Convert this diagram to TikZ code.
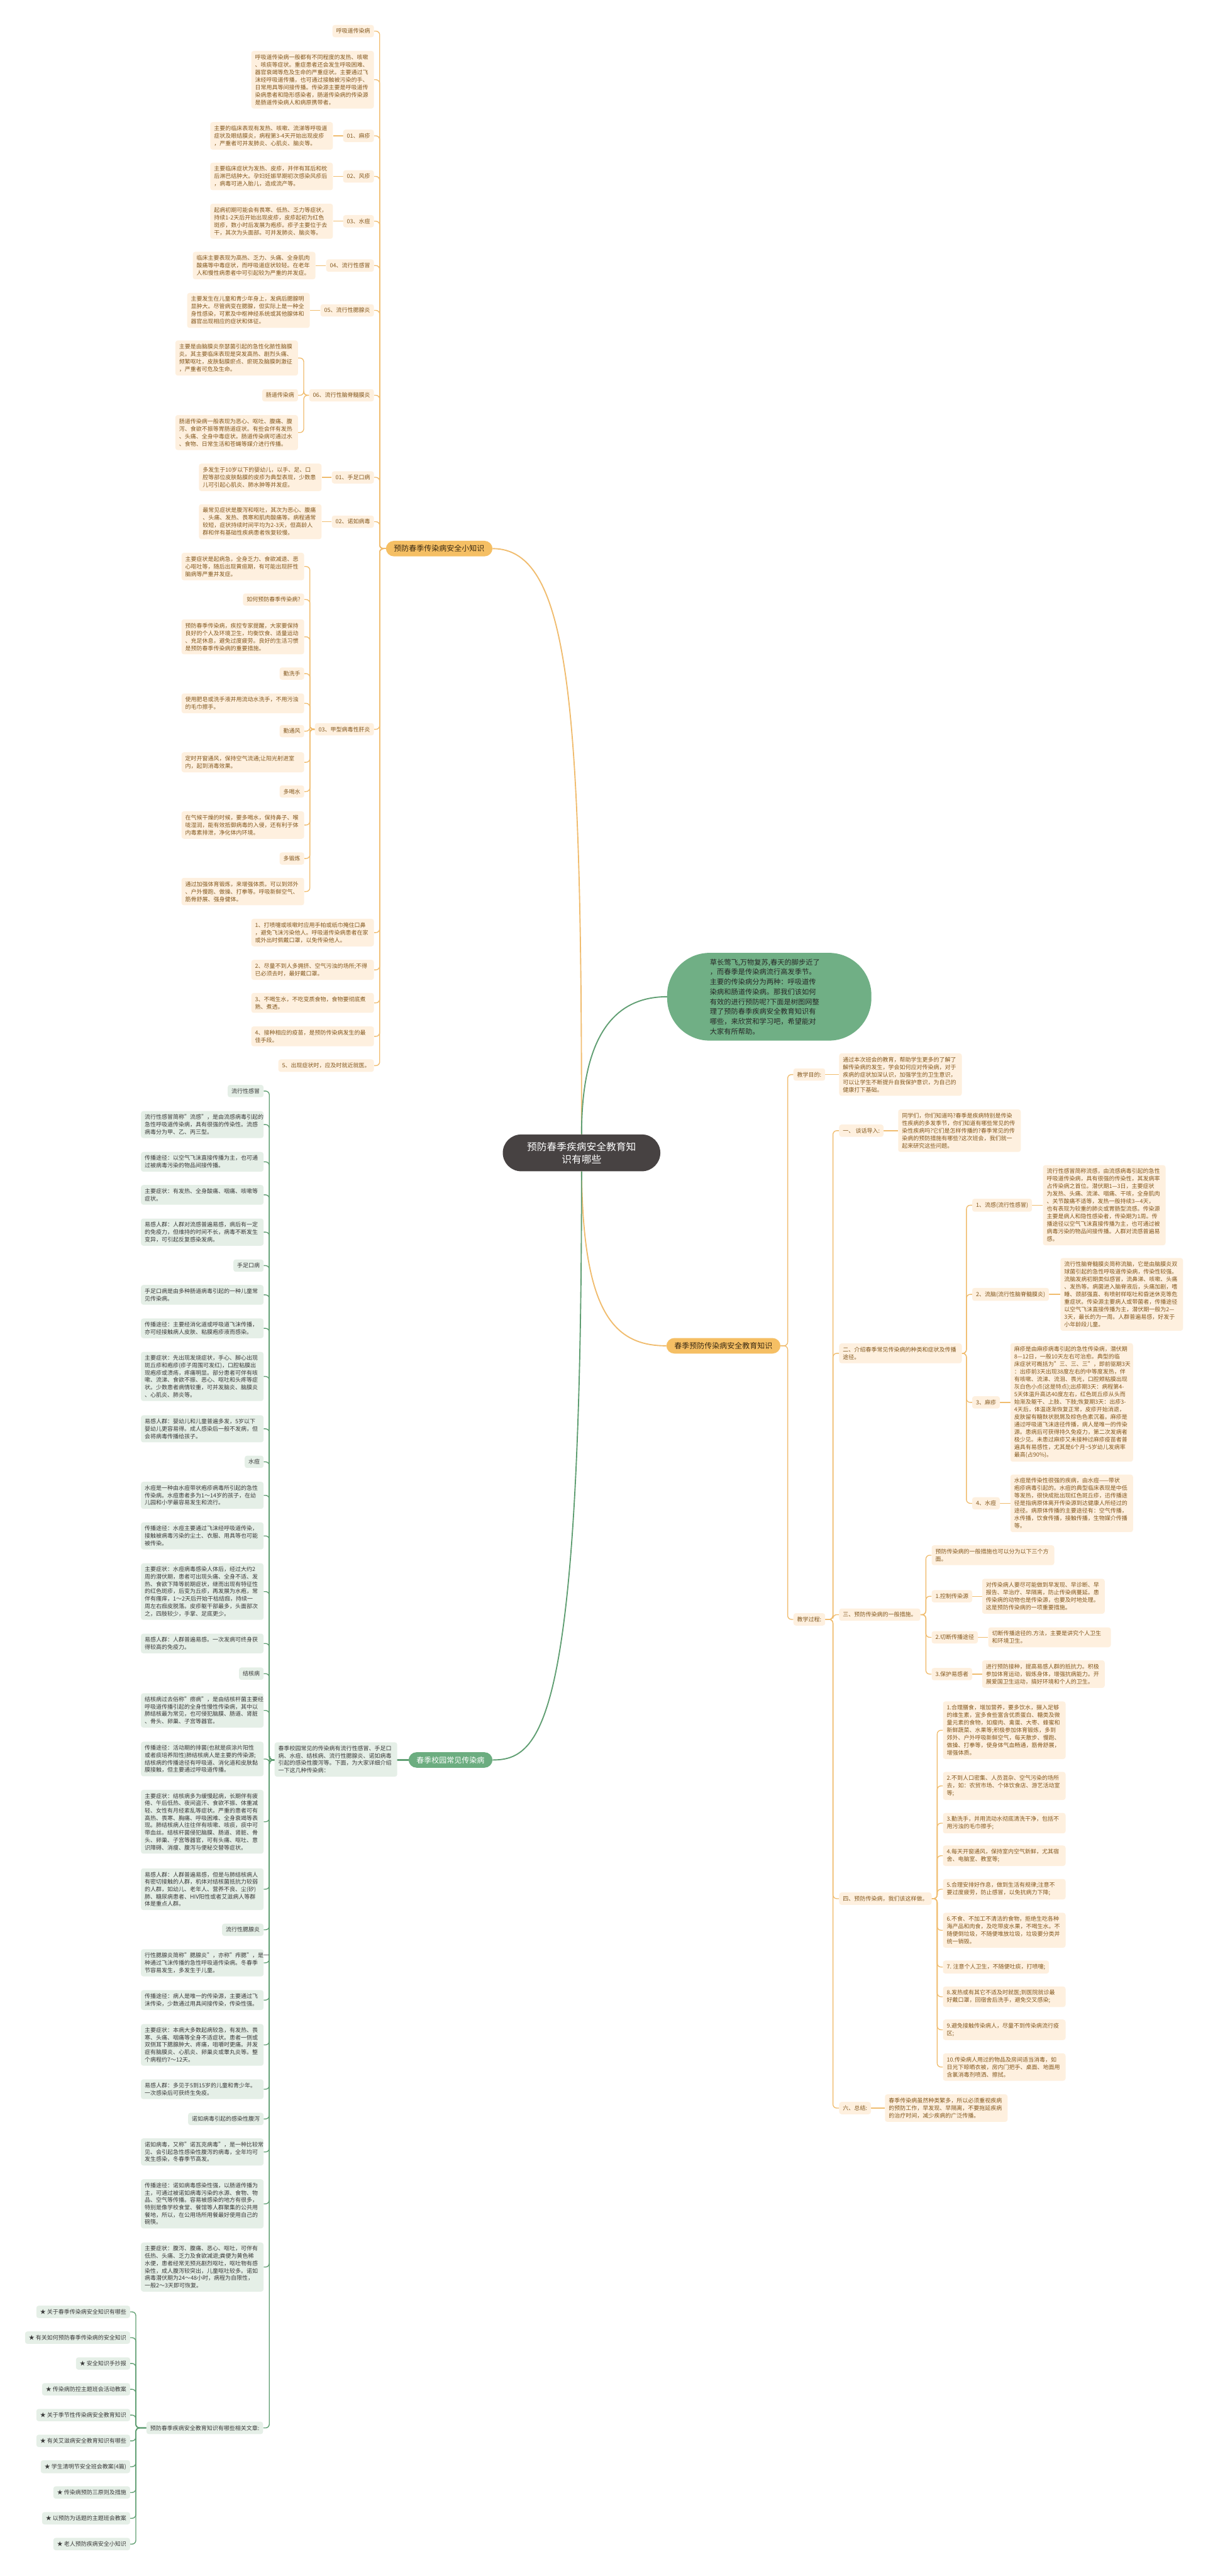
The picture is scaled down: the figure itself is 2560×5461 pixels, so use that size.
\documentclass[tikz,border=0pt]{standalone}
\usepackage{fontspec}
\setmainfont{Noto Sans CJK SC}
\usetikzlibrary{backgrounds}

\definecolor{orline}{HTML}{F0BC6E}
\definecolor{orfill}{HTML}{FEF0DF}
\definecolor{ortext}{HTML}{83581E}
\definecolor{orhub}{HTML}{F5BF64}
\definecolor{orhubtext}{HTML}{3B2A12}
\definecolor{grline}{HTML}{5F9E72}
\definecolor{grfill}{HTML}{E5EFE7}
\definecolor{grtext}{HTML}{3A3A3A}
\definecolor{grhub}{HTML}{6CAD80}
\definecolor{notefill}{HTML}{70AF85}
\definecolor{ink}{HTML}{474242}

\tikzset{
	olink/.style={draw=orline, line width=1.8pt, rounded corners=8pt},
	glink/.style={draw=grline, line width=1.8pt, rounded corners=8pt},
	cell/.style={rounded corners=5pt, inner xsep=8pt, inner ysep=7.5pt, align=left},
	olbl/.style={cell, fill=orfill, text=ortext, font=\fontsize{12}{16}\selectfont},
	obox/.style={olbl, text width=244pt},
	glbl/.style={cell, fill=grfill, text=grtext, font=\fontsize{12}{15.6}\selectfont},
	gbox/.style={glbl, text width=244pt},
	hub/.style={rounded corners=17pt, inner xsep=17pt, inner ysep=9pt, font=\fontsize{16}{20}\selectfont},
	ohub/.style={hub, fill=orhub, text=orhubtext},
	ghub/.style={hub, fill=grhub, text=white},
	core/.style={fill=ink, text=white, font=\fontsize{21}{27}\selectfont, align=center,
		minimum width=334pt, minimum height=78pt, rounded corners=39pt},
	note/.style={fill=notefill, text=black!85, font=\fontsize{15}{21}\selectfont, align=left,
		text width=252pt, minimum width=433pt, minimum height=186pt, rounded corners=90pt}
}

\begin{document}
\begin{tikzpicture}[x=1pt,y=-1pt]
\useasboundingbox (0,0) rectangle (2560,5461);

\node[core] (root) at (1233,2444) {预防春季疾病安全教育知\\识有哪些};
\node[note] (intro) at (1631,2113) {草长莺飞,万物复苏,春天的脚步近了\\，而春季是传染病流行高发季节。\\主要的传染病分为两种：呼吸道传\\染病和肠道传染病。那我们该如何\\有效的进行预防呢?下面是树图网整\\理了预防春季疾病安全教育知识有\\哪些，来欣赏和学习吧，希望能对\\大家有所帮助。};
\node[ohub, anchor=west] (tips) at (818,1163) {预防春季传染病安全小知识};
\node[ohub, anchor=east] (edu) at (1655,2853) {春季预防传染病安全教育知识};
\node[ghub, anchor=west] (camp) at (866,3731) {春季校园常见传染病};

\coordinate (kT) at (805,0);
\coordinate (k6) at (644,0);
\coordinate (k9) at (657,0);
\coordinate (kE) at (1670,0);
\coordinate (kP) at (1766,0);
\coordinate (k2) at (2049,0);
\coordinate (k3) at (1963,0);
\coordinate (k4) at (1987,0);
\coordinate (kC) at (571,0);
\coordinate (kR) at (288,0);

% 小知识
\node[olbl, anchor=east] (t0) at (793,66) {呼吸道传染病};
\node[obox, anchor=east] (t0-d) at (793,169) {呼吸道传染病一般都有不同程度的发热、咳嗽\\、咳痰等症状。重症患者还会发生呼吸困难、\\器官衰竭等危及生命的严重症状。主要通过飞\\沫经呼吸道传播，也可通过接触被污染的手、\\日常用具等间接传播。传染源主要是呼吸道传\\染病患者和隐形感染者，肠道传染病的传染源\\是肠道传染病人和病原携带者。};
\node[olbl, anchor=east] (t1) at (793,288) {01、麻疹};
\node[obox, anchor=east] (t1-d) at (706,288) {主要的临床表现有发热、咳嗽、流涕等呼吸道\\症状及眼结膜炎，病程第3-4天开始出现皮疹\\，严重者可并发肺炎、心肌炎、脑炎等。};
\node[olbl, anchor=east] (t2) at (793,374) {02、风疹};
\node[obox, anchor=east] (t2-d) at (706,374) {主要临床症状为发热、皮疹，并伴有耳后和枕\\后淋巴结肿大。孕妇妊娠早期初次感染风疹后\\，病毒可进入胎儿，造成流产等。};
\node[olbl, anchor=east] (t3) at (793,469) {03、水痘};
\node[obox, anchor=east] (t3-d) at (706,469) {起病初期可能会有畏寒、低热、乏力等症状，\\持续1-2天后开始出现皮疹，皮疹起初为红色\\斑疹，数小时后发展为疱疹。疹子主要位于去\\干，其次为头面部。可并发肺炎、脑炎等。};
\node[olbl, anchor=east] (t4) at (793,563) {04、流行性感冒};
\node[obox, anchor=east] (t4-d) at (669,563) {临床主要表现为高热、乏力、头痛、全身肌肉\\酸痛等中毒症状，而呼吸道症状较轻。在老年\\人和慢性病患者中可引起较为严重的并发症。};
\node[olbl, anchor=east] (t5) at (793,658) {05、流行性腮腺炎};
\node[obox, anchor=east] (t5-d) at (657,658) {主要发生在儿童和青少年身上，发病后腮腺明\\显肿大。尽管病变在腮腺，但实际上是一种全\\身性感染，可累及中枢神经系统或其他腺体和\\器官出现相应的症状和体征。};
\node[obox, anchor=east] (t6-a) at (632,759) {主要是由脑膜炎奈瑟菌引起的急性化脓性脑膜\\炎。其主要临床表现是突发高热、剧烈头痛、\\频繁呕吐，皮肤黏膜瘀点、瘀斑及脑膜刺激征\\，严重者可危及生命。};
\node[olbl, anchor=east] (t6) at (793,838) {06、流行性脑脊髓膜炎};
\node[olbl, anchor=east] (t6-b) at (632,838) {肠道传染病};
\node[obox, anchor=east] (t6-c) at (632,917) {肠道传染病一般表现为恶心、呕吐、腹痛、腹\\泻、食欲不振等胃肠道症状。有些会伴有发热\\、头痛、全身中毒症状。肠道传染病可通过水\\、食物、日常生活和苍蝇等媒介进行传播。};
\node[olbl, anchor=east] (t7) at (793,1012) {01、手足口病};
\node[obox, anchor=east] (t7-d) at (682,1012) {多发生于10岁以下的婴幼儿，以手、足、口\\腔等部位皮肤黏膜的皮疹为典型表现，少数患\\儿可引起心肌炎、肺水肿等并发症。};
\node[olbl, anchor=east] (t8) at (793,1106) {02、诺如病毒};
\node[obox, anchor=east] (t8-d) at (682,1106) {最常见症状是腹泻和呕吐，其次为恶心、腹痛\\、头痛、发热、畏寒和肌肉酸痛等。病程通常\\较短，症状持续时间平均为2-3天，但高龄人\\群和伴有基础性疾病患者恢复较慢。};
\node[olbl, anchor=east] (t9) at (793,1546) {03、甲型病毒性肝炎};
\node[obox, anchor=east] (t9-a) at (645,1201) {主要症状是起病急，全身乏力、食欲减退、恶\\心呕吐等，随后出现黄疸期，有可能出现肝性\\脑病等严重并发症。};
\node[olbl, anchor=east] (t9-b) at (645,1271) {如何预防春季传染病?};
\node[obox, anchor=east] (t9-c) at (645,1350) {预防春季传染病，疾控专家提醒，大家要保持\\良好的个人及环境卫生，均衡饮食、适量运动\\、充足休息，避免过度疲劳。良好的生活习惯\\是预防春季传染病的重要措施。};
\node[olbl, anchor=east] (t9-d) at (645,1428) {勤洗手};
\node[obox, anchor=east] (t9-e) at (645,1491) {使用肥皂或洗手液并用流动水洗手，不用污浊\\的毛巾擦手。};
\node[olbl, anchor=east] (t9-f) at (645,1550) {勤通风};
\node[obox, anchor=east] (t9-g) at (645,1616) {定时开窗通风，保持空气流通;让阳光射进室\\内，起到消毒效果。};
\node[olbl, anchor=east] (t9-h) at (645,1678) {多喝水};
\node[obox, anchor=east] (t9-i) at (645,1749) {在气候干燥的时候，要多喝水，保持鼻子、喉\\咙湿润，能有效抵御病毒的入侵，还有利于体\\内毒素排泄，净化体内环境。};
\node[olbl, anchor=east] (t9-j) at (645,1820) {多锻炼};
\node[obox, anchor=east] (t9-k) at (645,1890) {通过加强体育锻炼，来增强体质。可以到郊外\\、户外慢跑、做操、打拳等。呼吸新鲜空气、\\筋骨舒展、强身健体。};
\node[obox, anchor=east] (p1) at (793,1977) {1、打喷嚏或咳嗽时应用手帕或纸巾掩住口鼻\\，避免飞沫污染他人。呼吸道传染病患者在家\\或外出时佩戴口罩，以免传染他人。};
\node[obox, anchor=east] (p2) at (793,2056) {2、尽量不到人多拥挤、空气污浊的场所;不得\\已必须去时，最好戴口罩。};
\node[obox, anchor=east] (p3) at (793,2126) {3、不喝生水，不吃变质食物，食物要彻底煮\\熟、煮透。};
\node[obox, anchor=east] (p4) at (793,2197) {4、接种相应的疫苗，是预防传染病发生的最\\佳手段。};
\node[olbl, anchor=east] (p5) at (793,2259) {5、出现症状时，应及时就近就医。};

% 教育知识
\node[olbl, anchor=west] (aim) at (1682,2278) {教学目的:};
\node[obox, anchor=west] (aim-d) at (1779,2278) {通过本次班会的教育，帮助学生更多的了解了\\解传染病的发生，学会如何应对传染病，对于\\疾病的症状加深认识，加强学生的卫生意识，\\可以让学生不断提升自我保护意识，为自己的\\健康打下基础。};
\node[olbl, anchor=west] (proc) at (1682,3433) {教学过程:};
\node[olbl, anchor=west] (s1) at (1779,2397) {一、 谈话导入:};
\node[obox, anchor=west] (s1-d) at (1904,2397) {同学们，你们知道吗?春季是疾病特别是传染\\性疾病的多发季节，你们知道有哪些常见的传\\染性疾病吗?它们是怎样传播的?春季常见的传\\染病的预防措施有哪些?这次班会，我们就一\\起来研究这些问题。};
\node[obox, anchor=west] (s2) at (1779,2869) {二、介绍春季常见传染病的种类和症状及传播\\途径。};
\node[olbl, anchor=west] (s2a) at (2061,2555) {1、流感(流行性感冒)};
\node[obox, anchor=west] (s2a-d) at (2211,2555) {流行性感冒简称流感，由流感病毒引起的急性\\呼吸道传染病，具有很强的传染性，其发病率\\占传染病之首位。潜伏期1—3日，主要症状\\为发热、头痛、流涕、咽痛、干咳，全身肌肉\\、关节酸痛不适等，发热一般持续3—4天，\\也有表现为较重的肺炎或胃肠型流感。传染源\\主要是病人和隐性感染者，传染期为1周。传\\播途径以空气飞沫直接传播为主，也可通过被\\病毒污染的物品间接传播。人群对流感普遍易\\感。};
\node[olbl, anchor=west] (s2b) at (2061,2744) {2、流脑(流行性脑脊髓膜炎)};
\node[obox, anchor=west] (s2b-d) at (2248,2744) {流行性脑脊髓膜炎简称流脑，它是由脑膜炎双\\球菌引起的急性呼吸道传染病，传染性较强。\\流脑发病初期类似感冒，流鼻涕、咳嗽、头痛\\、发热等。病菌进入脑脊液后，头痛加剧，嗜\\睡、颈部强直、有喷射样呕吐和昏迷休克等危\\重症状。传染源主要病人或带菌者，传播途径\\以空气飞沫直接传播为主，潜伏期一般为2—\\3天，最长的为一周。人群普遍易感，好发于\\小年龄段儿童。};
\node[olbl, anchor=west] (s2c) at (2061,2973) {3、麻疹};
\node[obox, anchor=west] (s2c-d) at (2142,2973) {麻疹是由麻疹病毒引起的急性传染病，潜伏期\\8—12日，一般10天左右可治愈。典型的临\\床症状可概括为"三、三、三"，即前驱期3天\\：出疹前3天出现38度左右的中等度发热，伴\\有咳嗽、流涕、流泪、畏光，口腔颊粘膜出现\\灰白色小点(这是特点);出疹期3天：病程第4-\\5天体温升高达40度左右，红色斑丘疹从头而\\始渐及躯干、上肢、下肢;恢复期3天：出疹3-\\4天后，体温逐渐恢复正常，皮疹开始消退，\\皮肤留有糖麸状脱屑及棕色色素沉着。麻疹是\\通过呼吸道飞沫途径传播，病人是唯一的传染\\源。患病后可获得持久免疫力，第二次发病者\\极少见。未患过麻疹又未接种过麻疹疫苗者普\\遍具有易感性，尤其是6个月\textasciitilde5岁幼儿发病率\\最高(占90\%)。};
\node[olbl, anchor=west] (s2d) at (2061,3187) {4、水痘};
\node[obox, anchor=west] (s2d-d) at (2142,3187) {水痘是传染性很强的疾病，由水痘——带状\\疱疹病毒引起的。水痘的典型临床表现是中低\\等发热，很快成批出现红色斑丘疹，迅传播途\\径是指病原体离开传染源到达健康人所经过的\\途径。病原体传播的主要途径有：空气传播，\\水传播，饮食传播，接触传播，生物媒介传播\\等。};
\node[olbl, anchor=west] (s3) at (1779,3423) {三、预防传染病的一般措施。};
\node[obox, anchor=west] (s3a) at (1975,3297) {预防传染病的一般措施也可以分为以下三个方\\面。};
\node[olbl, anchor=west] (s3b) at (1975,3384) {1.控制传染源};
\node[obox, anchor=west] (s3b-d) at (2082,3384) {对传染病人要尽可能做到早发现、早诊断、早\\报告、早治疗、早隔离，防止传染病蔓延。患\\传染病的动物也是传染源，也要及时地处理。\\这是预防传染病的一项重要措施。};
\node[olbl, anchor=west] (s3c) at (1975,3471) {2.切断传播途径};
\node[obox, anchor=west] (s3c-d) at (2095,3471) {切断传播途径的.方法，主要是讲究个人卫生\\和环境卫生。};
\node[olbl, anchor=west] (s3d) at (1975,3549) {3.保护易感者};
\node[obox, anchor=west] (s3d-d) at (2082,3549) {进行预防接种，提高易感人群的抵抗力。积极\\参加体育运动，锻炼身体，增强抗病能力。开\\展爱国卫生运动，搞好环境和个人的卫生。};
\node[olbl, anchor=west] (s4) at (1779,4025) {四、预防传染病，我们该这样做。};
\node[obox, anchor=west] (s4a) at (1999,3668) {1.合理膳食，增加营养，要多饮水，摄入足够\\的维生素，宜多食些富含优质蛋白、糖类及微\\量元素的食物，如瘦肉、禽蛋、大枣、蜂蜜和\\新鲜蔬菜、水果等;积极参加体育锻炼，多到\\郊外、户外呼吸新鲜空气，每天散步、慢跑、\\做操、打拳等，使身体气血畅通，筋骨舒展，\\增强体质。};
\node[obox, anchor=west] (s4b) at (1999,3786) {2.不到人口密集、人员混杂、空气污染的场所\\去，如：农贸市场、个体饮食店、游艺活动室\\等;};
\node[obox, anchor=west] (s4c) at (1999,3865) {3.勤洗手，并用流动水彻底清洗干净，包括不\\用污浊的毛巾擦手;};
\node[obox, anchor=west] (s4d) at (1999,3934) {4.每天开窗通风，保持室内空气新鲜，尤其宿\\舍、电脑室、教室等;};
\node[obox, anchor=west] (s4e) at (1999,4005) {5.合理安排好作息，做到生活有规律;注意不\\要过度疲劳，防止感冒，以免抗病力下降;};
\node[obox, anchor=west] (s4f) at (1999,4092) {6.不食、不加工不清洁的食物，拒绝生吃各种\\海产品和肉食，及吃带皮水果，不喝生水。不\\随便倒垃圾，不随便堆放垃圾，垃圾要分类并\\统一销毁。};
\node[olbl, anchor=west] (s4g) at (1999,4170) {7. 注意个人卫生，不随便吐痰，打喷嚏;};
\node[obox, anchor=west] (s4h) at (1999,4233) {8.发热或有其它不适及时就医;到医院就诊最\\好戴口罩，回宿舍后洗手，避免交叉感染;};
\node[obox, anchor=west] (s4i) at (1999,4303) {9.避免接触传染病人，尽量不到传染病流行疫\\区;};
\node[obox, anchor=west] (s4j) at (1999,4382) {10.传染病人用过的物品及房间适当消毒，如\\日光下晾晒衣被，房内门把手、桌面、地面用\\含氯消毒剂喷洒、擦拭。};
\node[olbl, anchor=west] (s6) at (1779,4469) {六、总结:};
\node[obox, anchor=west] (s6-d) at (1876,4469) {春季传染病虽然种类繁多，所以必须重视疾病\\的预防工作，早发现、早隔离，不要拖延疾病\\的治疗时间，减少疾病的广泛传播。};

% 校园常见传染病
\node[gbox, anchor=west] (cd) at (582,3730) {春季校园常见的传染病有流行性感冒、手足口\\病、水痘、结核病、流行性腮腺炎、诺如病毒\\引起的感染性腹泻等。下面，为大家详细介绍\\一下这几种传染病：};
\node[glbl, anchor=east] (g1) at (559,2313) {流行性感冒};
\node[gbox, anchor=east] (g1a) at (559,2384) {流行性感冒简称"流感"，是由流感病毒引起的\\急性呼吸道传染病，具有很强的传染性。流感\\病毒分为甲、乙、丙三型。};
\node[gbox, anchor=east] (g1b) at (559,2463) {传播途径：以空气飞沫直接传播为主，也可通\\过被病毒污染的物品间接传播。};
\node[gbox, anchor=east] (g1c) at (559,2533) {主要症状：有发热、全身酸痛、咽痛、咳嗽等\\症状。};
\node[gbox, anchor=east] (g1d) at (559,2612) {易感人群：人群对流感普遍易感，病后有一定\\的免疫力，但维持的时间不长，病毒不断发生\\变异，可引起反复感染发病。};
\node[glbl, anchor=east] (g2) at (559,2683) {手足口病};
\node[gbox, anchor=east] (g2a) at (559,2745) {手足口病是由多种肠道病毒引起的一种儿童常\\见传染病。};
\node[gbox, anchor=east] (g2b) at (559,2816) {传播途径：主要经消化道或呼吸道飞沫传播，\\亦可经接触病人皮肤、粘膜疱疹液而感染。};
\node[gbox, anchor=east] (g2c) at (559,2918) {主要症状：先出现发烧症状，手心、脚心出现\\斑丘疹和疱疹(疹子周围可发红)，口腔粘膜出\\现疱疹或溃疡，疼痛明显。部分患者可伴有咳\\嗽、流涕、食欲不振、恶心、呕吐和头疼等症\\状。少数患者病情较重，可并发脑炎、脑膜炎\\、心肌炎、肺炎等。};
\node[gbox, anchor=east] (g2d) at (559,3029) {易感人群：婴幼儿和儿童普遍多发，5岁以下\\婴幼儿更容易得。成人感染后一般不发病，但\\会将病毒传播给孩子。};
\node[glbl, anchor=east] (g3) at (559,3099) {水痘};
\node[gbox, anchor=east] (g3a) at (559,3170) {水痘是一种由水痘带状疱疹病毒所引起的急性\\传染病。水痘患者多为1～14岁的孩子，在幼\\儿园和小学最容易发生和流行。};
\node[gbox, anchor=east] (g3b) at (559,3256) {传播途径：水痘主要通过飞沫经呼吸道传染，\\接触被病毒污染的尘土、衣服、用具等也可能\\被传染。};
\node[gbox, anchor=east] (g3c) at (559,3374) {主要症状：水痘病毒感染人体后，经过大约2\\周的潜伏期，患者可出现头痛、全身不适、发\\热、食欲下降等前期症状，继而出现有特征性\\的红色斑疹，后变为丘疹，再发展为水疱，常\\伴有瘙痒，1～2天后开始干枯结痂，持续一\\周左右痂皮脱落。皮疹躯干部最多，头面部次\\之，四肢较少，手掌、足底更少。};
\node[gbox, anchor=east] (g3d) at (559,3484) {易感人群：人群普遍易感。一次发病可终身获\\得较高的免疫力。};
\node[glbl, anchor=east] (g4) at (559,3548) {结核病};
\node[gbox, anchor=east] (g4a) at (559,3626) {结核病过去俗称"痨病"，是由结核杆菌主要经\\呼吸道传播引起的全身性慢性传染病，其中以\\肺结核最为常见，也可侵犯脑膜、肠道、肾脏\\、骨头、卵巢、子宫等器官。};
\node[gbox, anchor=east] (g4b) at (559,3729) {传播途径：活动期的排菌(也就是痰涂片阳性\\或者痰培养阳性)肺结核病人是主要的传染源;\\结核病的传播途径有呼吸道、消化道和皮肤黏\\膜接触，但主要通过呼吸道传播。};
\node[gbox, anchor=east] (g4c) at (559,3862) {主要症状：结核病多为缓慢起病，长期伴有疲\\倦、午后低热、夜间盗汗、食欲不振、体重减\\轻、女性有月经紊乱等症状。严重的患者可有\\高热、畏寒、胸痛、呼吸困难、全身衰竭等表\\现。肺结核病人往往伴有咳嗽、咳痰，痰中可\\带血丝。结核杆菌侵犯脑膜、肠道、肾脏、骨\\头、卵巢、子宫等器官，可有头痛、呕吐、意\\识障碍、消瘦、腹泻与便秘交替等症状。};
\node[gbox, anchor=east] (g4d) at (559,4005) {易感人群：人群普遍易感，但是与肺结核病人\\有密切接触的人群，机体对结核菌抵抗力较弱\\的人群，如幼儿、老年人、营养不良、尘(矽)\\肺、糖尿病患者、HIV阳性或者艾滋病人等群\\体是重点人群。};
\node[glbl, anchor=east] (g5) at (559,4091) {流行性腮腺炎};
\node[gbox, anchor=east] (g5a) at (559,4161) {行性腮腺炎简称"腮腺炎"，亦称"痄腮"，是一\\种通过飞沫传播的急性呼吸道传染病。冬春季\\节容易发生，多发生于儿童。};
\node[gbox, anchor=east] (g5b) at (559,4240) {传播途径：病人是唯一的传染源，主要通过飞\\沫传染，少数通过用具间接传染，传染性强。};
\node[gbox, anchor=east] (g5c) at (559,4335) {主要症状：本病大多数起病较急，有发热、畏\\寒、头痛、咽痛等全身不适症状。患者一侧或\\双侧耳下腮腺肿大、疼痛，咀嚼时更痛。并发\\症有脑膜炎、心肌炎、卵巢炎或睾丸炎等。整\\个病程约7～12天。};
\node[gbox, anchor=east] (g5d) at (559,4429) {易感人群：多见于5到15岁的儿童和青少年。\\一次感染后可获终生免疫。};
\node[glbl, anchor=east] (g6) at (559,4492) {诺如病毒引起的感染性腹泻};
\node[gbox, anchor=east] (g6a) at (559,4562) {诺如病毒，又称"诺瓦克病毒"，是一种比较常\\见、会引起急性感染性腹泻的病毒，全年均可\\发生感染，冬春季节高发。};
\node[gbox, anchor=east] (g6b) at (559,4672) {传播途径：诺如病毒感染性强，以肠道传播为\\主，可通过被诺如病毒污染的水源、食物、物\\品、空气等传播。容易被感染的地方有很多，\\特别是像学校食堂、餐馆等人群聚集的公共用\\餐地，所以，在公用场所用餐最好使用自己的\\碗筷。};
\node[gbox, anchor=east] (g6c) at (559,4806) {主要症状：腹泻、腹痛、恶心、呕吐，可伴有\\低热、头痛、乏力及食欲减退;粪便为黄色稀\\水便，患者经常无预兆剧烈呕吐，呕吐物有感\\染性，成人腹泻较突出，儿童呕吐较多。诺如\\病毒潜伏期为24～48小时，病程为自限性，\\一般2～3天即可恢复。};
\node[glbl, anchor=east] (rel) at (558,5147) {预防春季疾病安全教育知识有哪些相关文章:};
\foreach \t [count=\i] in {关于春季传染病安全知识有哪些, 有关如何预防春季传染病的安全知识, 安全知识手抄报, 传染病防控主题班会活动教案, 关于季节性传染病安全教育知识, 有关艾滋病安全教育知识有哪些, 学生清明节安全班会教案(4篇), 传染病预防三原则及措施, 以预防为话题的主题班会教案, 老人预防疾病安全小知识}
	\node[glbl, anchor=east] (r\i) at (276,{4901+54.7*(\i-1)}) {★ \t};

\begin{scope}[on background layer]
\draw[orline, line width=2.5pt] (root.north) .. controls (1233,1500) and (1210,1163) .. (tips.east);
\draw[grline, line width=2.5pt] (root.north) .. controls (1233,2200) and (1300,2113) .. (intro.west);
\draw[orline, line width=2.5pt] (root.south) .. controls (1236,2780) and (1300,2853) .. (edu.west);
\draw[grline, line width=2.5pt] (root.south) .. controls (1233,3650) and (1150,3731) .. (camp.east);

\foreach \c in {t0,t0-d,t1,t2,t3,t4,t5,t6,t7,t8,t9,p1,p2,p3,p4,p5}
	\draw[olink] (tips.west) -- (tips.west -| kT) -- (\c.east -| kT) -- (\c.east);
\foreach \c in {t6-a,t6-b,t6-c}
	\draw[olink] (t6.west) -- (t6.west -| k6) -- (\c.east -| k6) -- (\c.east);
\foreach \c in {t9-a,t9-b,t9-c,t9-d,t9-e,t9-f,t9-g,t9-h,t9-i,t9-j,t9-k}
	\draw[olink] (t9.west) -- (t9.west -| k9) -- (\c.east -| k9) -- (\c.east);
\foreach \a in {t1,t2,t3,t4,t5,t7,t8}
	\draw[olink] (\a.west) -- (\a-d.east);

\foreach \c in {aim,proc}
	\draw[olink] (edu.east) -- (edu.east -| kE) -- (\c.west -| kE) -- (\c.west);
\foreach \c in {s1,s2,s3,s4,s6}
	\draw[olink] (proc.east) -- (proc.east -| kP) -- (\c.west -| kP) -- (\c.west);
\foreach \c in {s2a,s2b,s2c,s2d}
	\draw[olink] (s2.east) -- (s2.east -| k2) -- (\c.west -| k2) -- (\c.west);
\foreach \c in {s3a,s3b,s3c,s3d}
	\draw[olink] (s3.east) -- (s3.east -| k3) -- (\c.west -| k3) -- (\c.west);
\foreach \c in {s4a,s4b,s4c,s4d,s4e,s4f,s4g,s4h,s4i,s4j}
	\draw[olink] (s4.east) -- (s4.east -| k4) -- (\c.west -| k4) -- (\c.west);
\foreach \a in {aim,s1,s2a,s2b,s2c,s2d,s3b,s3c,s3d,s6}
	\draw[olink] (\a.east) -- (\a-d.west);

\draw[glink] (camp.west) -- (cd.east);
\foreach \c in {g1,g1a,g1b,g1c,g1d,g2,g2a,g2b,g2c,g2d,g3,g3a,g3b,g3c,g3d,g4,g4a,g4b,g4c,g4d,g5,g5a,g5b,g5c,g5d,g6,g6a,g6b,g6c,rel}
	\draw[glink] (camp.west) -- (camp.west -| kC) -- (\c.east -| kC) -- (\c.east);
\foreach \i in {1,...,10}
	\draw[glink] (rel.west) -- (rel.west -| kR) -- (r\i.east -| kR) -- (r\i.east);
\end{scope}
\end{tikzpicture}
\end{document}
